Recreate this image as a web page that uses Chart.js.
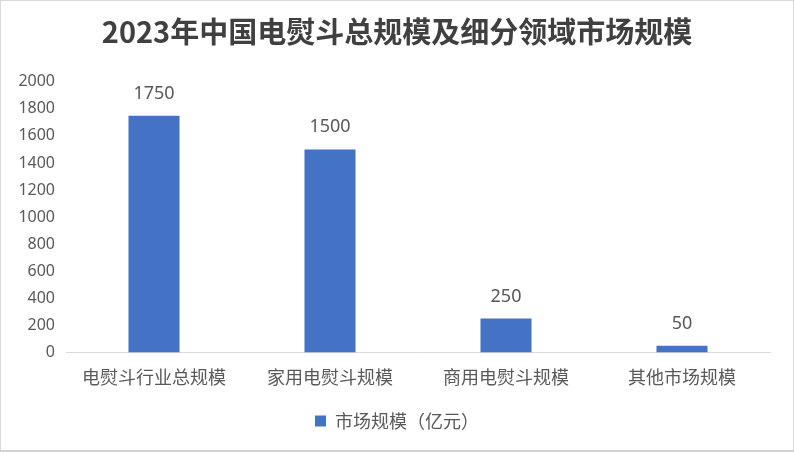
<!DOCTYPE html>
<html><head><meta charset="utf-8">
<script src="https://cdn.jsdelivr.net/npm/chart.js@4"></script>
<style>
html,body{margin:0;padding:0;background:#fff;}
#wrap{position:relative;width:794px;height:452px;}
#frame{position:absolute;left:0;top:0;width:794px;height:452px;box-sizing:border-box;border:1px solid #d9d9d9;border-bottom:2px solid #d0d0d0;pointer-events:none;}
</style></head>
<body>
<div id="wrap"><canvas id="c" width="794" height="452"></canvas><div id="frame"></div></div>
<script>
const titleText = '2023年中国电熨斗总规模及细分领域市场规模';
const categories = ['电熨斗行业总规模','家用电熨斗规模','商用电熨斗规模','其他市场规模'];
const seriesName = '市场规模（亿元）';
const values = [1750, 1500, 250, 50];
const yMin = 0, yMax = 2000, yStep = 200;

const numFont = '"Noto Sans", "Noto Sans CJK SC", sans-serif';
const cjkFont = '"Noto Sans CJK SC", "Noto Sans", sans-serif';
const textColor = '#595959';

const dataLabels = {
  id: 'dataLabels',
  afterDatasetsDraw(chart) {
    const ctx = chart.ctx;
    ctx.save();
    ctx.font = '18px ' + numFont;
    ctx.fillStyle = textColor;
    ctx.textAlign = 'center';
    ctx.textBaseline = 'alphabetic';
    chart.getDatasetMeta(0).data.forEach((bar, i) => {
      ctx.fillText(String(chart.data.datasets[0].data[i]), bar.x, bar.y - 17);
    });
    ctx.restore();
  }
};

new Chart(document.getElementById('c'), {
  type: 'bar',
  data: {
    labels: categories,
    datasets: [{
      label: seriesName,
      data: values,
      yAxisID: 'y',
      backgroundColor: '#4472C4',
      borderWidth: 0,
      categoryPercentage: 1.0,
      barPercentage: 0.29
    }]
  },
  options: {
    responsive: false,
    animation: false,
    devicePixelRatio: 1,
    layout: { padding: { left: 0, right: 0, top: 0, bottom: 12 } },
    plugins: {
      title: {
        display: true,
        text: titleText,
        color: '#404040',
        font: { family: cjkFont, size: 29, weight: 'bold' },
        padding: { top: 15, bottom: 32 }
      },
      legend: {
        display: true,
        position: 'bottom',
        labels: {
          color: textColor,
          font: { family: cjkFont, size: 18 },
          boxWidth: 11,
          boxHeight: 11,
          padding: 10
        }
      },
      tooltip: { enabled: false }
    },
    scales: {
      x: {
        grid: { display: false, drawTicks: false },
        border: { display: true, color: '#d9d9d9', width: 1 },
        ticks: { color: textColor, font: { family: cjkFont, size: 18 }, padding: 14, maxRotation: 0 }
      },
      y: {
        min: yMin, max: yMax,
        grid: { display: false, drawTicks: false },
        border: { display: false },
        ticks: { stepSize: yStep, color: textColor, font: { family: numFont, size: 16 }, padding: 11,
                 callback: (v) => String(v) },
        afterFit(scale) { scale.width = 66; }
      },
      yRightSpacer: {
        position: 'right',
        min: 0, max: 1,
        grid: { display: false, drawTicks: false },
        border: { display: false },
        ticks: { display: false },
        afterFit(scale) { scale.width = 24; }
      }
    }
  },
  plugins: [dataLabels]
});
</script>
</body></html>
